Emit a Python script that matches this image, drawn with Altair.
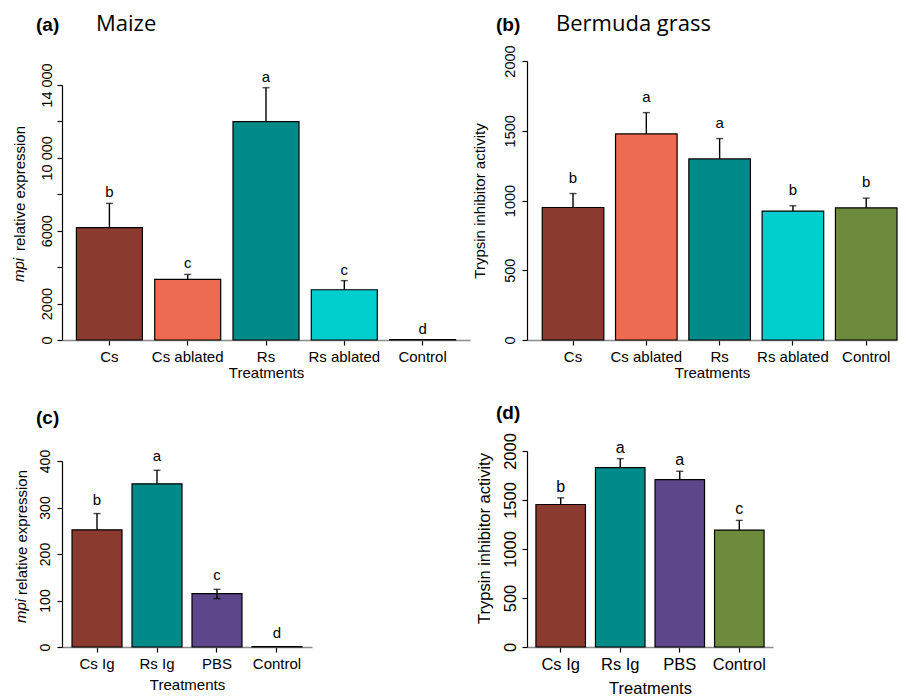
import altair as alt
import pandas as pd

# ---------------- data ----------------
A_CATS = ["Cs", "Cs ablated", "Rs", "Rs ablated", "Control"]
A_MEAN = [6170, 3330, 11990, 2760, 25]
A_HI = [7500, 3600, 13850, 3260, 25]
A_LO = [6170, 3330, 11990, 2760, 25]
A_LETTERS = ["b", "c", "a", "c", "d"]
A_YTICKS = [0, 2000, 4000, 6000, 8000, 10000, 12000, 14000]
A_YLABELS = ["0", "2000", "", "6000", "", "10 000", "", "14 000"]

B_CATS = ["Cs", "Cs ablated", "Rs", "Rs ablated", "Control"]
B_MEAN = [950, 1477, 1298, 924, 947]
B_HI = [1050, 1630, 1444, 962, 1017]
B_LO = [950, 1477, 1298, 924, 947]
B_LETTERS = ["b", "a", "a", "b", "b"]
B_YTICKS = [0, 500, 1000, 1500, 2000]
B_YLABELS = ["0", "500", "1000", "1500", "2000"]

C_CATS = ["Cs Ig", "Rs Ig", "PBS", "Control"]
C_MEAN = [252, 351, 115, 1]
C_HI = [287, 380, 124, 1]
C_LO = [252, 351, 104, 1]
C_LETTERS = ["b", "a", "c", "d"]
C_YTICKS = [0, 100, 200, 300, 400]
C_YLABELS = ["0", "100", "200", "300", "400"]

D_CATS = ["Cs Ig", "Rs Ig", "PBS", "Control"]
D_MEAN = [1454, 1831, 1708, 1193]
D_HI = [1522, 1922, 1793, 1292]
D_LO = [1454, 1831, 1708, 1193]
D_LETTERS = ["b", "a", "a", "c"]
D_YTICKS = [0, 500, 1000, 1500, 2000]
D_YLABELS = ["0", "500", "1000", "1500", "2000"]

COLOR_OF = {
    "Cs": "#8B3A30", "Cs ablated": "#EE6A50", "Rs": "#008B8B",
    "Rs ablated": "#00CDCD", "Control": "#6E8B3D",
    "Cs Ig": "#8B3A30", "Rs Ig": "#008B8B", "PBS": "#5D478B",
}

FONT = "Liberation Sans"


def label_expr(values, labels):
    expr = "''"
    for v, l in reversed(list(zip(values, labels))):
        expr = f"datum.value == {v} ? '{l}' : ({expr})"
    return expr


def panel(cats, mean, hi, lo, letters, yticks, ylabels, *, width, height,
          yrange, ymax, pin, pout, align, tag, tag_x, tag_y, name=None,
          name_x=0, ytitle, ytitle_x, ytitle_y, italic=None, italic_y=0,
          fs_tick=15, fs_lab=15, fs_title=15, fs_letter=15, gap=6,
          lab_pad=8, xtitle_pad=1):
    df = pd.DataFrame({"cat": cats, "mean": mean, "hi": hi, "lo": lo,
                       "letter": letters})
    x = alt.X("cat:N", sort=cats, title="Treatments",
              scale=alt.Scale(paddingInner=pin, paddingOuter=pout, align=align),
              axis=alt.Axis(labelAngle=0, labelFontSize=fs_lab, labelFont=FONT,
                            labelColor="black", labelPadding=4, tickSize=5,
                            tickColor="black", tickWidth=1.2,
                            domainColor="#8c8c8c", domainWidth=1.5,
                            labelOverlap=False, labelBound=False, labelFlush=False,
                            titleFont=FONT, titleFontSize=fs_title,
                            titleFontWeight="normal", titleColor="black",
                            titlePadding=xtitle_pad))
    yaxis = alt.Axis(values=yticks, labelExpr=label_expr(yticks, ylabels),
                     labelAngle=270, labelAlign="center", labelBaseline="alphabetic",
                     labelFontSize=fs_tick, labelFont=FONT, labelColor="black",
                     labelPadding=lab_pad, tickSize=5, tickColor="black",
                     tickWidth=1.2, domainColor="black", domainWidth=1.2,
                     grid=False, labelOverlap=False, labelFlush=False,
                     labelBound=False,
                     title=ytitle, titleFont=FONT, titleFontSize=fs_title,
                     titleFontWeight="normal", titleColor="black",
                     titleAngle=270, titleAlign="center",
                     titleBaseline="alphabetic", titleX=ytitle_x, titleY=ytitle_y)
    yscale = alt.Scale(domain=[0, ymax], range=yrange, nice=False, zero=True)

    def Y(field):
        return alt.Y(f"{field}:Q", scale=yscale, axis=yaxis, title=ytitle)

    palette = [COLOR_OF[c] for c in cats]
    base = alt.Chart(df)
    bars = base.mark_bar(stroke="black", strokeWidth=1.2).encode(
        x=x, y=Y("mean"),
        color=alt.Color("cat:N", scale=alt.Scale(domain=cats, range=palette),
                        legend=None))
    rules = base.mark_rule(color="black", strokeWidth=1.4).encode(
        x=x, y=Y("lo"), y2="hi")
    caps_hi = base.transform_filter("datum.hi > datum.mean").mark_tick(
        orient="horizontal", size=7, thickness=1.4, color="black").encode(
        x=x, y=Y("hi"))
    caps_lo = base.transform_filter("datum.lo < datum.mean").mark_tick(
        orient="horizontal", size=7, thickness=1.4, color="black").encode(
        x=x, y=Y("lo"))
    letters_m = base.mark_text(dy=-gap, baseline="alphabetic", font=FONT,
                               fontSize=fs_letter, color="black").encode(
        x=x, y=Y("hi"), text="letter:N")
    layers = [bars, rules, caps_hi, caps_lo, letters_m]

    tagdf = pd.DataFrame({"t": [tag]})
    layers.append(alt.Chart(tagdf).mark_text(
        align="left", baseline="alphabetic", font=FONT, fontSize=19,
        fontWeight="bold", color="black").encode(
        x=alt.value(tag_x), y=alt.value(tag_y), text="t:N"))
    if name:
        namedf = pd.DataFrame({"t": [name]})
        layers.append(alt.Chart(namedf).mark_text(
            align="left", baseline="alphabetic", font="Open Sans", fontSize=22,
            color="black").encode(
            x=alt.value(name_x), y=alt.value(tag_y), text="t:N"))
    if italic:
        itdf = pd.DataFrame({"t": [italic]})
        layers.append(alt.Chart(itdf).mark_text(
            align="center", baseline="alphabetic", angle=270, font=FONT,
            fontSize=fs_title, fontStyle="italic", color="black").encode(
            x=alt.value(ytitle_x), y=alt.value(italic_y), text="t:N"))
    return alt.layer(*layers).properties(
        width=width, height=height,
        view=alt.ViewBackground(stroke="transparent", strokeWidth=0))


pa = panel(A_CATS, A_MEAN, A_HI, A_LO, A_LETTERS, A_YTICKS, A_YLABELS,
           width=408, height=279, yrange=[279, 24], ymax=14000,
           pin=0.157, pout=0.184, align=0.5, tag="(a)", tag_x=-26, tag_y=-30,
           name="Maize", name_x=34, ytitle="relative expression",
           ytitle_x=-38, ytitle_y=127, italic="mpi", italic_y=209,
           fs_tick=14.5, gap=6, lab_pad=6)
pb = panel(B_CATS, B_MEAN, B_HI, B_LO, B_LETTERS, B_YTICKS, B_YLABELS,
           width=370, height=279, yrange=[279, 0], ymax=2000,
           pin=0.16, pout=0.104, align=1, tag="(b)", tag_x=-31, tag_y=-30,
           name="Bermuda grass", name_x=29, ytitle="Trypsin inhibitor activity",
           ytitle_x=-43, ytitle_y=139.5, fs_tick=14.5, gap=11, lab_pad=8)
pc = panel(C_CATS, C_MEAN, C_HI, C_LO, C_LETTERS, C_YTICKS, C_YLABELS,
           width=250, height=196, yrange=[196, 10], ymax=400,
           pin=0.167, pout=0.167, align=0.5, tag="(c)", tag_x=-26, tag_y=-27,
           ytitle="relative expression", ytitle_x=-36, ytitle_y=81,
           italic="mpi", italic_y=160, fs_tick=14, gap=9, lab_pad=8,
           xtitle_pad=6)
pd_ = panel(D_CATS, D_MEAN, D_HI, D_LO, D_LETTERS, D_YTICKS, D_YLABELS,
            width=246, height=196, yrange=[196, 0], ymax=2000,
            pin=0.168, pout=0.15, align=0.5, tag="(d)", tag_x=-31, tag_y=-32,
            ytitle="Trypsin inhibitor activity", ytitle_x=-38, ytitle_y=87,
            fs_tick=16.5, fs_lab=16.5, fs_title=16.5, fs_letter=16, gap=6,
            lab_pad=7, xtitle_pad=8)

chart = alt.concat(pa, pb, pc, pd_, columns=2, bounds="flush",
                   spacing={"row": 111, "column": 57}).resolve_scale(
    color="independent", x="independent", y="independent").properties(
    padding={"left": 4, "top": 5, "right": 0, "bottom": 0},
    background="white",
).configure_view(stroke="transparent", strokeWidth=0).configure(font=FONT)

chart.save("out.html", embed_options={"renderer": "svg", "actions": False})
